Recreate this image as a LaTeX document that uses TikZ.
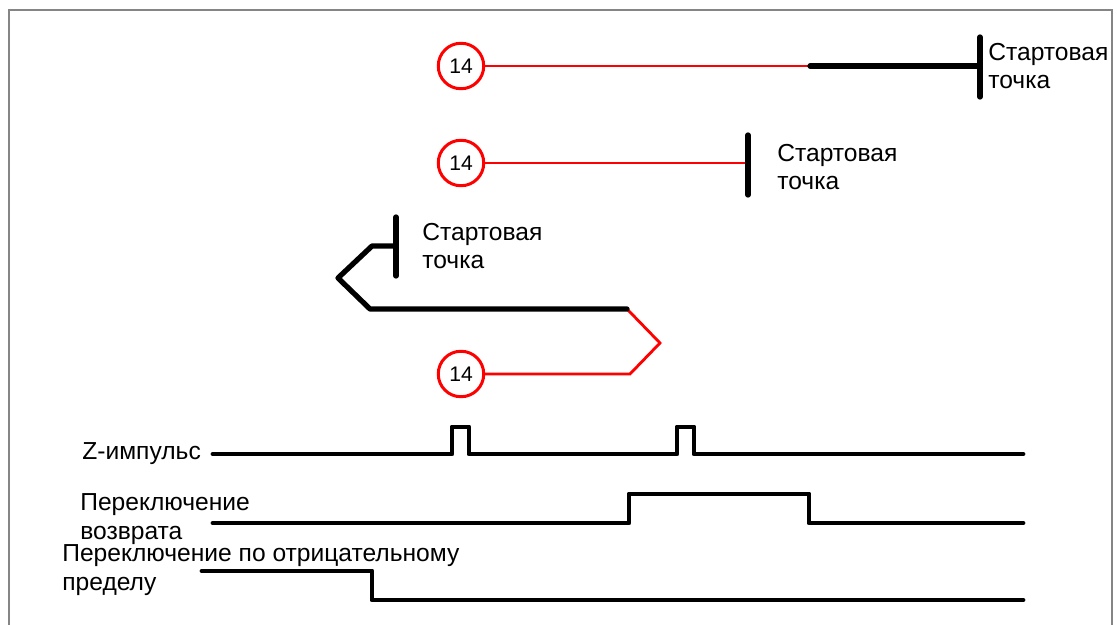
\documentclass[tikz,border=0pt]{standalone}
\usepackage{fontspec}
\setmainfont{Liberation Sans}
\usetikzlibrary{positioning}
\definecolor{framegray}{HTML}{858585}
\definecolor{pathred}{HTML}{FF0000}

\begin{document}
\begin{tikzpicture}[
		x=0.02cm, y=-0.02cm,
		every node/.style={font=\fontsize{14}{16.2}\selectfont},
		marker/.style={circle, draw=pathred, line width=1.7pt, minimum size=0.91cm, inner sep=0pt, font=\fontsize{12}{14}\selectfont},
		redpath/.style={pathred, line width=1.6pt},
		blackpath/.style={black, line width=3pt, line cap=round, line join=round},
		signal/.style={black, line width=2.8pt, line cap=round, line join=round},
		lbl/.style={align=left, anchor=base west, inner sep=0pt}
	]
		\useasboundingbox (0,0) rectangle (1117,625);

		% Frame
		\draw[framegray, line width=1.2pt] (9,640) -- (9,10) -- (1112,10) -- (1112,640);

		% Markers
		\node[marker] (mk1) at (461,66) {14};
		\node[marker] (mk2) at (461,163) {14};
		\node[marker] (mk3) at (461,374) {14};

		% Start point labels (anchored on the last line)
		\node[lbl] (start1) at (988,89) {Стартовая\\точка};
		\node[lbl] (start2) at (777,190) {Стартовая\\точка};
		\node[lbl] (start3) at (422,269) {Стартовая\\точка};

		% Path 1: long run
		\coordinate (split1) at (810,66);
		\coordinate (stop1) at (980,66);
		\draw[redpath] (mk1) -- (split1);
		\draw[blackpath] (split1) -- (stop1);
		\draw[blackpath] (980,37) -- (980,97);

		% Path 2: short run
		\coordinate (stop2) at (748,163);
		\draw[redpath] (mk2) -- (stop2);
		\draw[blackpath] (748,135) -- (748,195);

		% Path 3: reversal
		\coordinate (split3) at (627,309);
		\coordinate (stop3) at (396,246);
		\draw[redpath] (mk3) -- (630,374) -- (660,343) -- (split3);
		\draw[blackpath] (split3) -- (370,309) -- (338,278) -- (372,246) -- (stop3);
		\draw[blackpath] (396,217) -- (396,276);

		% Signal labels
		\node[lbl] (zpulse) at (82,459) {Z-импульс};
		\node[lbl] (homesw) at (80,539) {Переключение\\возврата};
		\node[lbl] (limsw) at (62,590) {Переключение по отрицательному\\пределу};

		% Signals
		\draw[signal] (213,454) foreach \px in {452,677} {-- (\px,454) -- (\px,427) -- (\px+17,427) -- (\px+17,454)} -- (1023,454);
		\draw[signal] (213,523) -- (629,523) -- (629,494) -- (809,494) -- (809,523) -- (1023,523);
		\draw[signal] (202,571) -- (372,571) -- (372,600) -- (1023,600);
	\end{tikzpicture}
\end{document}
